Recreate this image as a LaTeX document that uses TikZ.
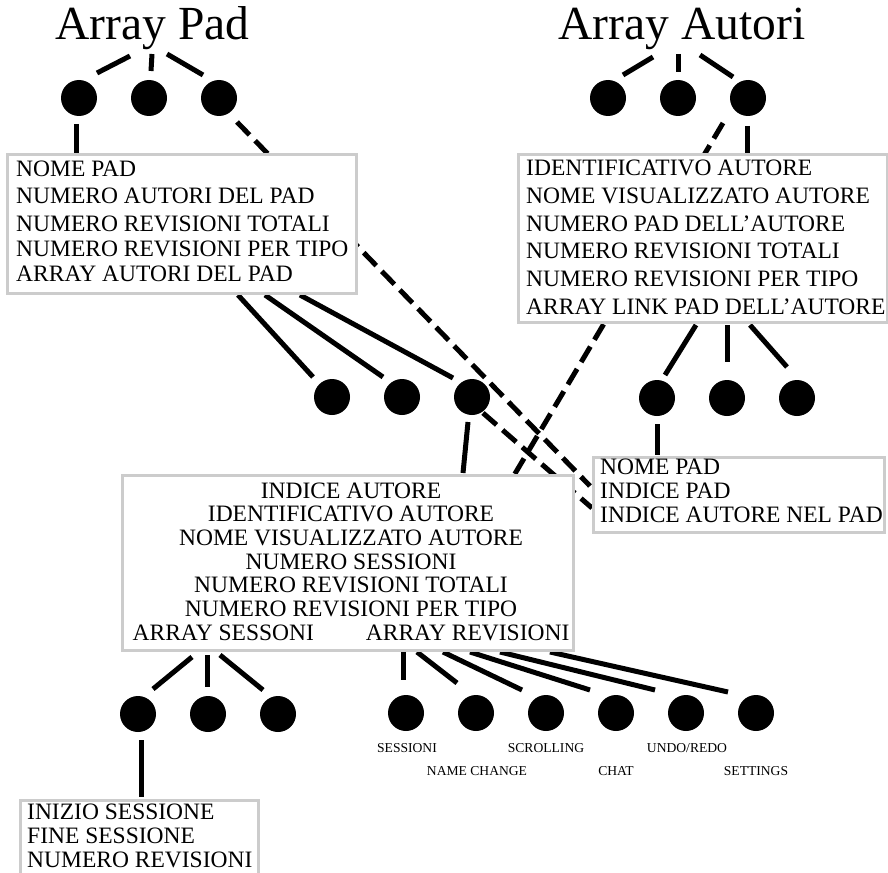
\documentclass[tikz,border=0pt]{standalone}
\usepackage{fontspec}
\setmainfont{Liberation Serif}
\tikzset{
  blob/.style={circle, fill=black, minimum size=36pt, inner sep=0pt},
  conn/.style={line width=5pt, black},
  dconn/.style={line width=5pt, black, dash pattern=on 18pt off 8pt},
  boxframe/.style={draw=gray!40, line width=3pt, fill=white, inner sep=0pt},
  txt/.style={inner sep=0pt, align=left, anchor=north west},
  ttl/.style={font=\fontsize{47.5}{50}\selectfont, anchor=base, inner sep=0pt},
  lab/.style={font=\fontsize{13.6}{15}\selectfont, anchor=base, inner sep=0pt},
}
\begin{document}
\begin{tikzpicture}[x=1pt,y=-1pt]
\useasboundingbox (0,0) rectangle (888,872);
\clip (0,0) rectangle (888,872);

% ---- titles
\node[ttl] (tpad) at (152.5,40) {Array Pad};
\node[ttl] (taut) at (682,40) {Array Autori};

% ---- dots
\foreach \n/\x in {1/79,2/149,3/219} \node[blob] (p\n) at (\x,98) {};
\foreach \n/\x in {1/608,2/678,3/748} \node[blob] (a\n) at (\x,98) {};
\foreach \n/\x in {1/332,2/402,3/472} \node[blob] (m\n) at (\x,397) {};
\foreach \n/\x in {1/657,2/727,3/797} \node[blob] (r\n) at (\x,398) {};
\foreach \n/\x in {1/138,2/208,3/278} \node[blob] (s\n) at (\x,714) {};
\foreach \n/\x in {1/406,2/476,3/546,4/616,5/686,6/756} \node[blob] (v\n) at (\x,713) {};

% ---- connector end points
\coordinate (tp1a) at (130,56);  \coordinate (tp1b) at (97,73);
\coordinate (tp2a) at (152,54);  \coordinate (tp2b) at (151,71);
\coordinate (tp3a) at (167,54);  \coordinate (tp3b) at (203,75);
\coordinate (ta1a) at (653,57);  \coordinate (ta1b) at (623,75);
\coordinate (ta2a) at (678,54);  \coordinate (ta2b) at (678,72);
\coordinate (ta3a) at (700,55);  \coordinate (ta3b) at (733,77);
\coordinate (p1a) at (76,124);   \coordinate (p1b) at (76,153);
\coordinate (p3a) at (237,122);  \coordinate (p3b) at (590,486);
\coordinate (a3a) at (747,126);  \coordinate (a3b) at (747,153);
\coordinate (a3c) at (723,123);  \coordinate (a3d) at (513,477);
\coordinate (b1m1) at (238,295); \coordinate (m1t) at (313,377);
\coordinate (b1m2) at (265,295); \coordinate (m2t) at (383,377);
\coordinate (b1m3) at (300,295); \coordinate (m3t) at (453,378);
\coordinate (b3r1) at (696,325); \coordinate (r1t) at (665,375);
\coordinate (b3r2) at (727,325); \coordinate (r2t) at (727,362);
\coordinate (b3r3) at (750,325); \coordinate (r3t) at (787,367);
\coordinate (m3a) at (468,422);  \coordinate (m3b) at (463,473);
\coordinate (m3c) at (483,413);  \coordinate (m3d) at (592,508);
\coordinate (r1a) at (657,424);  \coordinate (r1b) at (657,455);
\coordinate (b2s1) at (192,657); \coordinate (s1t) at (153,689);
\coordinate (b2s2) at (207,655); \coordinate (s2t) at (207,687);
\coordinate (b2s3) at (220,655); \coordinate (s3t) at (263,690);
\coordinate (b2v1) at (403,652); \coordinate (v1t) at (403,680);
\coordinate (b2v2) at (417,652); \coordinate (v2t) at (457,683);
\coordinate (b2v3) at (443,652); \coordinate (v3t) at (522,690);
\coordinate (b2v4) at (470,652); \coordinate (v4t) at (590,690);
\coordinate (b2v5) at (500,652); \coordinate (v5t) at (655,690);
\coordinate (b2v6) at (550,652); \coordinate (v6t) at (728,692);
\coordinate (s1a) at (141,740);  \coordinate (s1b) at (141,797);

% ---- connectors
\draw[conn] (tp1a) -- (tp1b);
\draw[conn] (tp2a) -- (tp2b);
\draw[conn] (tp3a) -- (tp3b);
\draw[conn] (ta1a) -- (ta1b);
\draw[conn] (ta2a) -- (ta2b);
\draw[conn] (ta3a) -- (ta3b);
\draw[conn] (p1a) -- (p1b);
\draw[dconn] (p3a) -- (p3b);
\draw[conn] (a3a) -- (a3b);
\draw[dconn] (a3c) -- (a3d);
\draw[conn] (b1m1) -- (m1t);
\draw[conn] (b1m2) -- (m2t);
\draw[conn] (b1m3) -- (m3t);
\draw[conn] (b3r1) -- (r1t);
\draw[conn] (b3r2) -- (r2t);
\draw[conn] (b3r3) -- (r3t);
\draw[conn] (m3a) -- (m3b);
\draw[dconn] (m3c) -- (m3d);
\draw[conn] (r1a) -- (r1b);
\draw[conn] (b2s1) -- (s1t);
\draw[conn] (b2s2) -- (s2t);
\draw[conn] (b2s3) -- (s3t);
\draw[conn] (b2v1) -- (v1t);
\draw[conn] (b2v2) -- (v2t);
\draw[conn] (b2v3) -- (v3t);
\draw[conn] (b2v4) -- (v4t);
\draw[conn] (b2v5) -- (v5t);
\draw[conn] (b2v6) -- (v6t);
\draw[conn] (s1a) -- (s1b);

% ---- boxes
\node[boxframe, minimum width=349pt, minimum height=139pt] (b1) at (181.5,223.5) {};
\node[boxframe, minimum width=369pt, minimum height=168pt] (b3) at (702.5,238) {};
\node[boxframe, minimum width=451pt, minimum height=175pt] (b2) at (347.5,562.5) {};
\node[boxframe, minimum width=291pt, minimum height=75pt] (b4) at (738.5,494.5) {};
\node[boxframe, minimum width=238pt, minimum height=100pt] (b5) at (139,850) {};

% ---- box texts
\node[txt, font=\fontsize{23.5}{25}\selectfont] (t1) at (16,160.3)
  {NOME PAD\\[2pt] NUMERO AUTORI DEL PAD\\[3pt] NUMERO REVISIONI TOTALI\\ NUMERO REVISIONI PER TIPO\\ ARRAY AUTORI DEL PAD};
\node[txt, font=\fontsize{23.5}{27.7}\selectfont] (t3) at (526,160)
  {IDENTIFICATIVO AUTORE\\ NOME VISUALIZZATO AUTORE\\ NUMERO PAD DELL’AUTORE\\ NUMERO REVISIONI TOTALI\\ NUMERO REVISIONI PER TIPO\\ ARRAY LINK PAD DELL’AUTORE};
\node[inner sep=0pt, align=center, anchor=north, font=\fontsize{23.5}{23.67}\selectfont] (t2) at (351,482.3)
  {INDICE AUTORE\\ IDENTIFICATIVO AUTORE\\ NOME VISUALIZZATO AUTORE\\ NUMERO SESSIONI\\ NUMERO REVISIONI TOTALI\\ NUMERO REVISIONI PER TIPO\\ ARRAY SESSONI\hspace{52pt}ARRAY REVISIONI};
\node[txt, font=\fontsize{23.5}{24}\selectfont] (t4) at (600,458.3)
  {NOME PAD\\ INDICE PAD\\ INDICE AUTORE NEL PAD};
\node[txt, font=\fontsize{23.5}{24}\selectfont] (t5) at (27,804)
  {INIZIO SESSIONE\\ FINE SESSIONE\\ NUMERO REVISIONI};

% ---- revision labels
\node[lab] (l1) at (407,752) {SESSIONI};
\node[lab] (l2) at (477,775) {NAME CHANGE};
\node[lab] (l3) at (546,752) {SCROLLING};
\node[lab] (l4) at (616,775) {CHAT};
\node[lab] (l5) at (687,752) {UNDO/REDO};
\node[lab] (l6) at (756,775) {SETTINGS};
\end{tikzpicture}
\end{document}
